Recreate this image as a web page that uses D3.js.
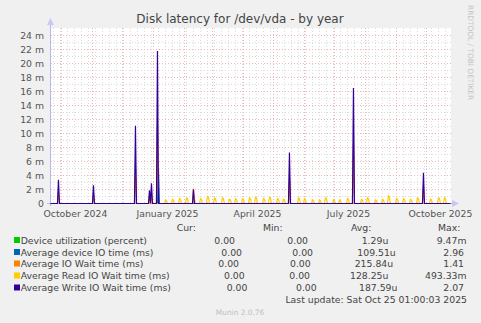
<!DOCTYPE html>
<html><head><meta charset="utf-8">
<script src="https://cdn.jsdelivr.net/npm/d3@7"></script>
<style>body{margin:0;background:#f0f0f0}svg{display:block}text{font-family:"DejaVu Sans",sans-serif}</style>
</head><body><svg id="c" width="481" height="323"></svg>
<script>
// ---- data ----
const titleText = "Disk latency for /dev/vda - by year";
const seriesNames = ["Device utilization (percent)","Average device IO time (ms)","Average IO Wait time (ms)","Average Read IO Wait time (ms)","Average Write IO Wait time (ms)"];
const seriesColors = ["#00cc00","#0066b3","#ff8000","#ffcc00","#330099"];
const legendCur = ["0.00","0.00","0.00","0.00","0.00"];
const legendMin = ["0.00","0.00","0.00","0.00","0.00"];
const legendAvg = ["1.29u","109.51u","215.84u","128.25u","187.59u"];
const legendMax = ["9.47m","2.96","1.41","493.33m","2.07"];
const yTicks = [0,2,4,6,8,10,12,14,16,18,20,22,24];
const xTickLabels = ["October 2024","January 2025","April 2025","July 2025","October 2025"];
const xTickDates = ["2024-10-15","2025-01-15","2025-04-15","2025-07-15","2025-10-15"];
const startTime = "2024-09-20T01:00:00";
const endTime = "2025-10-25T01:00:00";

// Write IO wait spikes (milli-units)
const writeDates = ["2024-09-28","2024-11-02","2024-12-14","2024-12-28","2024-12-30","2025-01-05","2025-02-10","2025-05-17","2025-07-20","2025-09-28"];
const writeValues = [3.4,2.6,11.1,1.9,2.9,21.8,2.0,7.3,16.5,4.4];
// Read IO wait bumps (each spans two days)
const readDates = ["2025-01-13","2025-01-20","2025-01-27","2025-02-03","2025-02-10","2025-02-17","2025-02-24","2025-03-03","2025-03-11","2025-03-18","2025-03-24","2025-03-31","2025-04-07","2025-04-13","2025-04-21","2025-04-27","2025-05-05","2025-05-11","2025-05-26","2025-06-01","2025-06-09","2025-06-16","2025-06-22","2025-06-30","2025-07-06","2025-07-14","2025-07-28","2025-08-03","2025-08-11","2025-08-18","2025-08-24","2025-09-01","2025-09-08","2025-09-15","2025-09-22","2025-10-05","2025-10-13","2025-10-19"];
const readValues = [0.5,0.6,0.7,0.8,1.0,0.7,1.0,0.8,0.8,0.6,0.7,0.7,0.8,0.9,0.7,0.9,0.7,0.6,0.8,0.7,0.5,0.5,0.8,0.5,0.5,0.7,0.6,0.8,0.5,0.6,1.1,0.7,0.7,0.6,0.8,0.6,0.8,0.8];
const readNextDay = [0.4,0.5,0.6,0.7,0.8,0.6,0.9,0.7,0.7,0.5,0.6,0.6,0.7,0.8,0.6,0.8,0.6,0.5,0.7,0.6,0.4,0.4,0.7,0.4,0.4,0.6,0.5,0.7,0.4,0.5,0.9,0.6,0.6,0.5,0.7,0.5,0.7,0.7];
// Overall IO wait
const ioWaitDates = ["2024-09-28","2024-11-02","2024-12-14","2024-12-28","2024-12-30","2025-01-05","2025-02-10","2025-05-17","2025-07-20","2025-09-28"];
const ioWaitValues = [1.6,1.3,5.5,1.0,1.5,11.0,2.1,3.8,8.5,2.3];
// Device IO time
const ioTimeDates = ["2025-01-06"];
const ioTimeValues = [5.0];
// Device utilization
const utilDates = [];
const utilValues = [];

// ---- chart ----
const svg = d3.select("#c");
const parse = d3.timeParse("%Y-%m-%d");
const t0 = new Date(startTime), t1 = new Date(endTime);
const x = d3.scaleTime().domain([t0, t1]).range([50.5, 450.5]);
const y = d3.scaleLinear().domain([0, 25]).range([203.5, 28.5]);

svg.append("rect").attr("width",481).attr("height",323).attr("fill","#f0f0f0");
svg.append("rect").attr("x",51).attr("y",28).attr("width",400).attr("height",175).attr("fill","#ffffff");

const grid = svg.append("g");
const minorCol = "#dcdcdc", majorCol = "#f0b4b4";
d3.timeMonday.range(t0, t1).forEach(d => {
  grid.append("line").attr("x1",Math.round(x(d))+0.5).attr("x2",Math.round(x(d))+0.5).attr("y1",28).attr("y2",203)
    .attr("stroke",minorCol).attr("stroke-dasharray","1,2");
});
d3.range(1, 25, 2).forEach(v => {
  grid.append("line").attr("x1",51).attr("x2",451).attr("y1",y(v)).attr("y2",y(v))
    .attr("stroke",minorCol).attr("stroke-dasharray","1,2");
});
d3.timeMonth.range(t0, t1).forEach(d => {
  grid.append("line").attr("x1",Math.round(x(d))+0.5).attr("x2",Math.round(x(d))+0.5).attr("y1",28).attr("y2",203)
    .attr("stroke",majorCol).attr("stroke-dasharray","1,2");
});
yTicks.filter(v => v > 0).forEach(v => {
  grid.append("line").attr("x1",51).attr("x2",451).attr("y1",y(v)).attr("y2",y(v))
    .attr("stroke",majorCol).attr("stroke-dasharray","1,2");
});

// axes
const axisCol = "#b8b8f0";
svg.append("line").attr("x1",50.5).attr("x2",50.5).attr("y1",206).attr("y2",24).attr("stroke",axisCol);
svg.append("path").attr("d","M47,25 L54,25 L50.5,18 Z").attr("fill","#c8c8f8");
svg.append("line").attr("x1",47).attr("x2",453).attr("y1",203.5).attr("y2",203.5).attr("stroke",axisCol);
svg.append("path").attr("d","M452,200 L452,207 L459,203.5 Z").attr("fill","#c8c8f8");

svg.append("g").selectAll("text").data(yTicks).join("text")
  .attr("x",44).attr("y",d => y(d)+3.3).attr("text-anchor","end")
  .attr("font-size","9.3px").attr("fill","#555")
  .text(d => d === 0 ? "0" : d + " m");
svg.append("g").selectAll("text").data(xTickLabels).join("text")
  .attr("x",(d,i) => x(parse(xTickDates[i]))).attr("y",216.5).attr("text-anchor","middle")
  .attr("font-size","9.3px").attr("fill","#555").text(d => d);

function buildSeries(dates, values, nextVals) {
  const pts = [[t0, 0]];
  dates.forEach((ds, i) => {
    const d = parse(ds);
    pts.push([d3.timeDay.offset(d, -1), 0], [d, values[i]]);
    if (nextVals) {
      pts.push([d3.timeDay.offset(d, 1), nextVals[i]], [d3.timeDay.offset(d, 2), 0]);
    } else {
      pts.push([d3.timeDay.offset(d, 1), 0]);
    }
  });
  pts.push([t1, 0]);
  pts.sort((a, b) => a[0] - b[0]);
  return pts;
}
const allSeries = [
  buildSeries(utilDates, utilValues),
  buildSeries(ioTimeDates, ioTimeValues),
  buildSeries(ioWaitDates, ioWaitValues),
  buildSeries(readDates, readValues, readNextDay),
  buildSeries(writeDates, writeValues)
];
const line = d3.line().x(d => x(d[0])).y(d => y(d[1]));
const plot = svg.append("g");
allSeries.forEach((s, i) => {
  plot.append("path").attr("d", line(s)).attr("fill","none")
    .attr("stroke", seriesColors[i]).attr("stroke-width", 1.2);
});

svg.append("text").attr("x",240).attr("y",23).attr("text-anchor","middle")
  .attr("font-size","12px").attr("fill","#444").text(titleText);
svg.append("text").attr("transform","translate(468,5) rotate(90)")
  .attr("font-size","7.4px").attr("fill","#c4c4c4").text("RRDTOOL / TOBI OETIKER");

const lg = svg.append("g").attr("font-size","9.3px").attr("fill","#444");
const headers = [["Cur:",176.7],["Min:",263],["Avg:",351],["Max:",438]];
headers.forEach(h => lg.append("text").attr("x",h[1]).attr("y",231).text(h[0]));
const rowY = [243.5,255.5,267,279,291];
const curX = [214.3,221.3,218.3,224,226.7];
const minX = [287.3,292.3,290,289.3,296];
const avgX = [361.7,357.3,354.7,350,359];
const maxX = [436.7,443.3,443.3,425,443.3];
seriesNames.forEach((n, i) => {
  lg.append("rect").attr("x",14).attr("y",rowY[i]-6.5).attr("width",6).attr("height",6).attr("fill",seriesColors[i]);
  lg.append("text").attr("x",20.7).attr("y",rowY[i]).text(n);
  lg.append("text").attr("x",curX[i]).attr("y",rowY[i]).text(legendCur[i]);
  lg.append("text").attr("x",minX[i]).attr("y",rowY[i]).text(legendMin[i]);
  lg.append("text").attr("x",avgX[i]).attr("y",rowY[i]).text(legendAvg[i]);
  lg.append("text").attr("x",maxX[i]).attr("y",rowY[i]).text(legendMax[i]);
});
lg.append("text").attr("x",467).attr("y",302.5).attr("text-anchor","end").text("Last update: Sat Oct 25 01:00:03 2025");
svg.append("text").attr("x",240).attr("y",314.5).attr("text-anchor","middle")
  .attr("font-size","7.4px").attr("fill","#c0c0c0").text("Munin 2.0.76");
</script></body></html>
